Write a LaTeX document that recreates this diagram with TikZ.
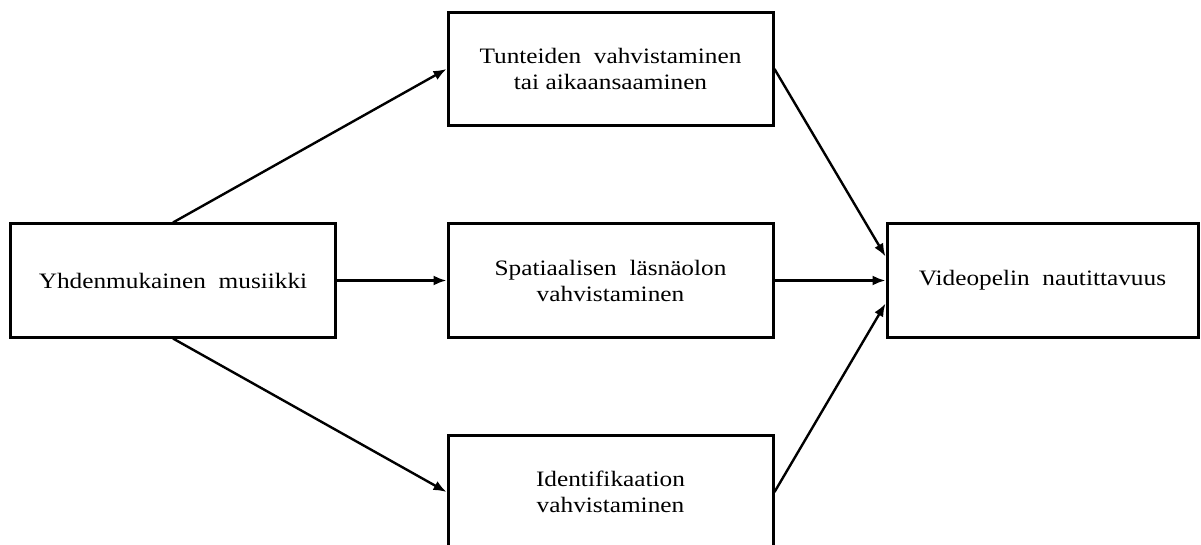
\documentclass[tikz,border=0pt]{standalone}
\usepackage{fontspec}
\setmainfont{Liberation Serif}[FakeStretch=1.15]
\usetikzlibrary{arrows.meta}
\begin{document}
\begin{tikzpicture}[x=1pt,y=-1pt,
  box/.style={draw=black,line width=3pt,minimum width=325pt,minimum height=113pt,inner sep=0pt,
    align=center,font=\fontsize{22}{26}\selectfont},
  conn/.style={line width=2.4pt,-{Latex[length=13pt,width=10pt]}}]
\useasboundingbox (0,0) rectangle (1201,545);
\clip (0,0) rectangle (1201,545);
\node[box] (L) at (173,280.5) {Yhdenmukainen\ \ musiikki};
\node[box] (T) at (610.5,69) {Tunteiden\ \ vahvistaminen\\tai aikaansaaminen};
\node[box] (M) at (610.5,280.5) {Spatiaalisen\ \ läsnäolon\\vahvistaminen};
\node[box] (B) at (610.5,492) {Identifikaation\\vahvistaminen};
\node[box,minimum width=311pt] (R) at (1042.5,280.5) {Videopelin\ \ nautittavuus};
\draw[conn] (L.north) -- (T.west);
\draw[conn] (L.east) -- (M.west);
\draw[conn] (L.south) -- (B.west);
\draw[conn] (T.east) -- ([yshift=24pt]R.west);
\draw[conn] (M.east) -- (R.west);
\draw[conn] (B.east) -- ([yshift=-23pt]R.west);
\end{tikzpicture}
\end{document}
